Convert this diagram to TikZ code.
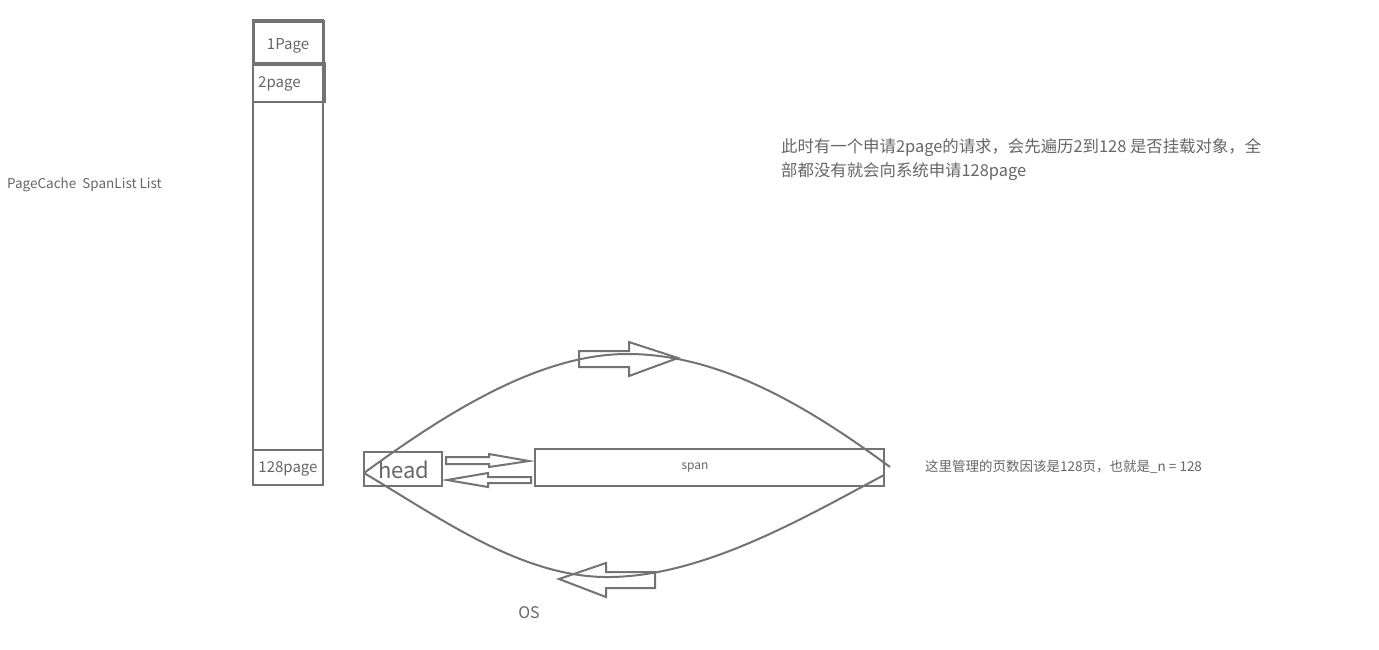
\documentclass[tikz,border=0pt]{standalone}
\usepackage{fontspec}
\setmainfont{Noto Sans CJK SC}
\begin{document}
\begin{tikzpicture}[x=1pt,y=-1pt,
  ln/.style={draw=black!55,line width=2pt},
  tx/.style={text=black!60,inner sep=0pt}]
\useasboundingbox[fill=white] (0,0) rectangle (1379,649);
\draw[ln] (253,20) rectangle (323,485);
\draw[ln,line width=3pt] (253,21) rectangle (323,64);
\draw[ln,line width=2.5pt] (253,63) rectangle (325,102);
\draw[ln] (253,450) rectangle (323,485);
\node[tx,font=\fontsize{15}{18}\selectfont] (p1) at (288,46) {1Page};
\node[tx,font=\fontsize{15}{18}\selectfont,anchor=west] (p2) at (258,84) {2page};
\node[tx,font=\fontsize{15}{18}\selectfont] (p128) at (288,469) {128page};
\node[tx,font=\fontsize{13.5}{16}\selectfont,anchor=west] (lab) at (7,185) {PageCache\ \ SpanList List};
\node[tx,font=\fontsize{16.4}{19}\selectfont,anchor=west,align=left] (desc) at (781,160)
  {此时有一个申请2page的请求，会先遍历2到128 是否挂载对象，全\\[5pt]部都没有就会向系统申请128page};
\node[tx,font=\fontsize{13.5}{16}\selectfont,anchor=west] (note) at (925,467) {这里管理的页数因该是128页，也就是\_n = 128};
\node[tx,font=\fontsize{16}{19}\selectfont] (os) at (529,613) {OS};
\draw[ln] (364,452) rectangle (442,486);
\node[tx,font=\fontsize{22}{26}\selectfont] (head) at (404,470) {head};
\draw[ln] (535,449) rectangle (884,486);
\node[tx,font=\fontsize{12}{14}\selectfont] (span) at (695,468) {span};
% curves
\draw[ln] (364,473) .. controls (450,410) and (540,355) .. (625,354) .. controls (720,353) and (810,408) .. (890,467);
\draw[ln] (364,473) .. controls (440,518) and (520,576) .. (605,577) .. controls (700,578) and (800,520) .. (884,475);
% block arrows
\draw[ln,line join=miter] (579,351) -- (629,351) -- (629,342) -- (678,358) -- (629,376) -- (629,367) -- (579,367) -- cycle;
\draw[ln,line join=miter] (655,572) -- (606,572) -- (606,563) -- (559,579) -- (606,597) -- (606,588) -- (655,588) -- cycle;
\draw[ln,line join=miter] (446,457) -- (489,457) -- (489,454) -- (529,461) -- (489,467) -- (489,464) -- (446,464) -- cycle;
\draw[ln,line join=miter] (531,477) -- (488,477) -- (488,473) -- (447,480) -- (488,487) -- (488,483) -- (531,483) -- cycle;
\end{tikzpicture}
\end{document}
